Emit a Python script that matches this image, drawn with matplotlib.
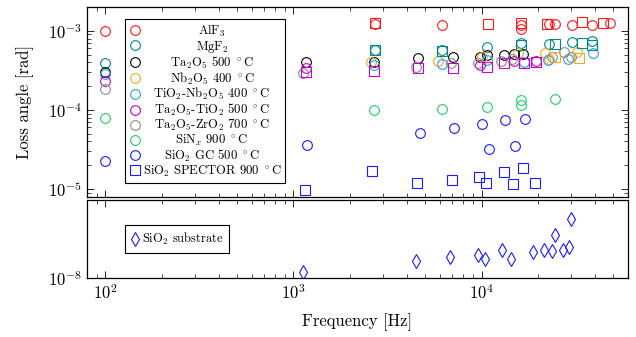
import matplotlib
matplotlib.use('Agg')
import matplotlib.pyplot as plt
from matplotlib.ticker import NullLocator, NullFormatter
from matplotlib.offsetbox import VPacker, DrawingArea

plt.rcParams['font.family'] = 'serif'
plt.rcParams['font.serif'] = ['cmr10']
plt.rcParams['mathtext.fontset'] = 'cm'
plt.rcParams['axes.formatter.use_mathtext'] = True

# ---- data (frequency [Hz], loss angle [rad]) ----
alf3_f = [100, 2.71e3, 6.17e3, 1.63e4, 1.63e4, 2.28e4, 2.46e4, 3.03e4, 3.87e4, 4.8e4]
alf3_v = [1.0e-3, 1.23e-3, 1.17e-3, 1.2e-3, 1.05e-3, 1.23e-3, 1.23e-3, 1.19e-3, 1.19e-3, 1.26e-3]
alf3_sq_f = [2.71e3, 1.08e4, 1.63e4, 2.24e4, 3.42e4, 4.43e4]
alf3_sq_v = [1.26e-3, 1.23e-3, 1.26e-3, 1.23e-3, 1.31e-3, 1.27e-3]

mgf2_f = [100, 2.71e3, 6.17e3, 1.07e4, 1.63e4, 2.28e4, 3.03e4, 3.87e4]
mgf2_v = [3.97e-4, 5.75e-4, 5.75e-4, 6.22e-4, 6.99e-4, 6.85e-4, 7.33e-4, 7.54e-4]
mgf2_sq_f = [2.71e3, 6.17e3, 1.63e4, 2.46e4, 3.42e4, 3.87e4]
mgf2_sq_v = [5.75e-4, 5.58e-4, 6.65e-4, 6.85e-4, 7.0e-4, 6.65e-4]

ta2o5_f = [100, 1.16e3, 2.68e3, 4.6e3, 7.03e3, 9.84e3, 1.07e4, 1.32e4, 1.48e4, 1.67e4]
ta2o5_v = [3.05e-4, 4.09e-4, 4.05e-4, 4.51e-4, 4.73e-4, 4.73e-4, 4.97e-4, 4.97e-4, 5.12e-4, 5.12e-4]

nb2o5_f = [2.58e3, 5.87e3, 1.0e4, 1.56e4, 2.17e4, 2.28e4, 3.23e4]
nb2o5_v = [4.09e-4, 4.21e-4, 4.64e-4, 5.31e-4, 5.22e-4, 4.38e-4, 5.47e-4]
nb2o5_sq_f = [2.46e4, 3.3e4]
nb2o5_sq_v = [4.73e-4, 4.52e-4]

tinb_f = [100, 2.68e3, 6.17e3, 1.07e4, 1.69e4, 2.26e4, 2.89e4, 3.92e4]
tinb_v = [2.86e-4, 3.71e-4, 3.79e-4, 4.30e-4, 4.09e-4, 4.30e-4, 4.38e-4, 5.22e-4]

tati_f = [100, 1.16e3, 9.84e3, 1.48e4, 1.94e4]
tati_v = [2.35e-4, 3.40e-4, 3.71e-4, 4.21e-4, 4.21e-4]
tati_sq_f = [1.16e3, 2.68e3, 4.6e3, 7.03e3, 1.07e4, 1.32e4, 1.69e4, 1.94e4]
tati_sq_v = [3.05e-4, 3.15e-4, 3.37e-4, 3.37e-4, 3.53e-4, 3.89e-4, 3.89e-4, 4.05e-4]

tazr_f = [100, 1.12e3, 4.46e3, 6.9e3, 9.56e3, 1.27e4, 1.445e4, 2.36e4, 2.75e4, 3.0e4]
tazr_v = [1.83e-4, 2.96e-4, 3.53e-4, 3.97e-4, 3.97e-4, 4.21e-4, 4.38e-4, 4.73e-4, 5.47e-4, 4.73e-4]

sinx_f = [100, 2.68e3, 6.17e3, 1.07e4, 1.63e4, 1.63e4, 2.46e4]
sinx_v = [8.0e-5, 1.01e-4, 1.04e-4, 1.10e-4, 1.34e-4, 1.15e-4, 1.37e-4]

gc_f = [100, 1.18e3, 4.68e3, 7.17e3, 1.0e4, 1.09e4, 1.33e4, 1.51e4, 1.71e4]
gc_v = [2.26e-5, 3.6e-5, 5.12e-5, 5.92e-5, 6.65e-5, 3.24e-5, 7.46e-5, 3.53e-5, 7.62e-5]

spector_f = [1.15e3, 2.63e3, 4.55e3, 6.96e3, 9.75e3, 1.05e4, 1.31e4, 1.47e4, 1.67e4, 1.92e4]
spector_v = [9.7e-6, 1.67e-5, 1.18e-5, 1.30e-5, 1.43e-5, 1.20e-5, 1.63e-5, 1.15e-5, 1.86e-5, 1.20e-5]

sub_f = [1.12e3, 4.49e3, 6.82e3, 9.55e3, 1.04e4, 1.28e4, 1.44e4, 1.88e4, 2.15e4,
         2.37e4, 2.47e4, 2.72e4, 2.92e4, 2.98e4]
sub_v = [1.19e-8, 1.67e-8, 1.86e-8, 1.98e-8, 1.76e-8, 2.29e-8, 1.76e-8, 2.13e-8, 2.29e-8,
         2.19e-8, 3.51e-8, 2.29e-8, 2.5e-8, 5.73e-8]

RED = '#ff1a1a'
TEAL = '#00868b'
ORANGE = '#f5a623'
LBLUE = '#2a9df4'
MAGENTA = '#c800c8'
GRAY = '#8c8c8c'
GREEN = '#22cc66'
BLUE = '#1a1aff'

fig = plt.figure(figsize=(6.36, 3.37), dpi=100)
ax1 = fig.add_axes([0.1368, 0.4154, 0.8506, 0.5636])
ax2 = fig.add_axes([0.1368, 0.175, 0.8506, 0.2315])

mk = dict(ls='none', mfc='none', ms=7, mew=0.8)

series = [
    (alf3_f, alf3_v, RED, 'AlF$_3$'),
    (mgf2_f, mgf2_v, TEAL, 'MgF$_2$'),
    (ta2o5_f, ta2o5_v, 'black', r'Ta$_2$O$_5$ 500 $^\circ$C'),
    (nb2o5_f, nb2o5_v, ORANGE, r'Nb$_2$O$_5$ 400 $^\circ$C'),
    (tinb_f, tinb_v, LBLUE, r'TiO$_2$-Nb$_2$O$_5$ 400 $^\circ$C'),
    (tati_f, tati_v, MAGENTA, r'Ta$_2$O$_5$-TiO$_2$ 500 $^\circ$C'),
    (tazr_f, tazr_v, GRAY, r'Ta$_2$O$_5$-ZrO$_2$ 700 $^\circ$C'),
    (sinx_f, sinx_v, GREEN, r'SiN$_x$ 900 $^\circ$C'),
    (gc_f, gc_v, BLUE, r'SiO$_2$ GC 500 $^\circ$C'),
]
for f, v, c, lab in series:
    ax1.plot(f, v, marker='o', mec=c, label=lab, **mk)
ax1.plot(spector_f, spector_v, marker='s', mec=BLUE, label=r'SiO$_2$ SPECTOR 900 $^\circ$C', **mk)

# square markers (second measurement series, no legend entry)
ax1.plot(alf3_sq_f, alf3_sq_v, marker='s', mec=RED, **mk)
ax1.plot(mgf2_sq_f, mgf2_sq_v, marker='s', mec=TEAL, **mk)
ax1.plot(nb2o5_sq_f, nb2o5_sq_v, marker='s', mec=ORANGE, **mk)
ax1.plot(tati_sq_f, tati_sq_v, marker='s', mec=MAGENTA, **mk)

ax2.plot(sub_f, sub_v, marker='d', mec=BLUE, label=r'SiO$_2$ substrate', **mk)

for ax in (ax1, ax2):
    ax.set_xscale('log')
    ax.set_yscale('log')
    ax.set_xlim(80, 6e4)
    ax.tick_params(which='both', direction='in', top=True, right=True, labelsize=12)
    ax.tick_params(which='major', length=5, width=0.6)
    ax.tick_params(which='minor', length=3, width=0.5)
    for s in ax.spines.values():
        s.set_linewidth(0.9)

ax1.set_ylim(7.9e-6, 2e-3)
ax1.xaxis.set_major_formatter(NullFormatter())
ax1.xaxis.set_minor_formatter(NullFormatter())

ax2.set_ylim(1e-8, 1e-7)
ax2.set_yticks([1e-8])
ax2.yaxis.set_minor_locator(NullLocator())

ax1.set_ylabel('Loss angle [rad]', fontsize=12)
ax2.set_xlabel('Frequency [Hz]', fontsize=12, labelpad=8)
ax1.yaxis.set_label_coords(-0.098, 0.5)

leg = ax1.legend(loc='upper left', bbox_to_anchor=(0.07, 0.937), fontsize=9.1,
                 frameon=True, fancybox=False, edgecolor='black', framealpha=1,
                 handletextpad=0.1, borderpad=0.3, labelspacing=-0.02,
                 handlelength=1.0, borderaxespad=0)
leg.get_frame().set_linewidth(0.8)

# centre the label texts in their column (like pgfplots legends)
fig.canvas.draw()
r = fig.canvas.get_renderer()
maxw = max(t.get_window_extent(r).width for t in leg.get_texts()) * 72 / fig.dpi
for col in leg._legend_handle_box.get_children():
    for row in col.get_children():
        h, txt = row.get_children()
        row._children = [h, VPacker(pad=0, sep=0, align='center',
                                    children=[txt, DrawingArea(maxw, 0)])]

leg2 = ax2.legend(loc='center left', bbox_to_anchor=(0.07, 0.5), fontsize=9,
                  frameon=True, fancybox=False, edgecolor='black', framealpha=1,
                  handletextpad=0.1, borderpad=0.45, handlelength=0.8, borderaxespad=0)
leg2.get_frame().set_linewidth(0.8)

fig.savefig('out.png', dpi=100)
